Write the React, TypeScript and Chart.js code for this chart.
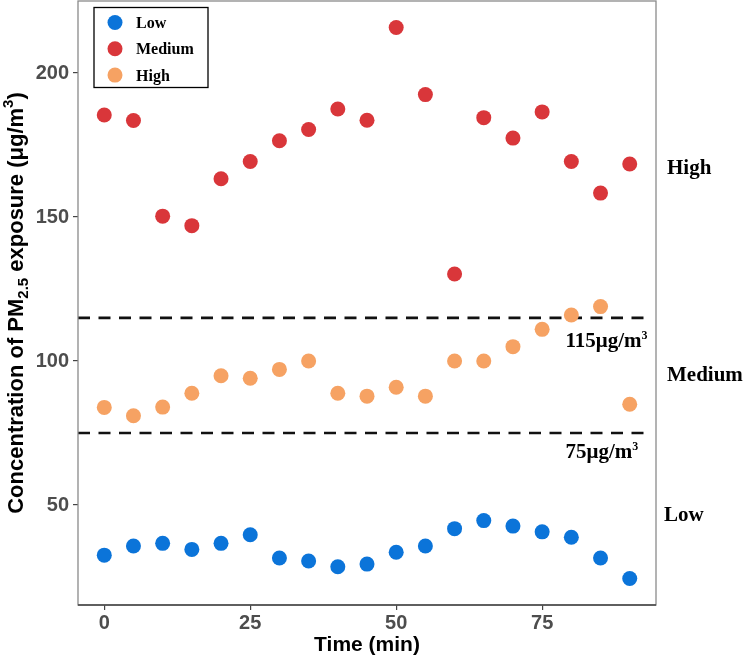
import React, { useEffect, useRef } from "react";
import { Chart, registerables } from "chart.js";

Chart.register(...registerables);

const times = [0, 5, 10, 15, 20, 25, 30, 35, 40, 45, 50, 55, 60, 65, 70, 75, 80, 85, 90];
const lowValues = [32.6, 35.8, 36.7, 34.6, 36.7, 39.7, 31.6, 30.6, 28.6, 29.5, 33.6, 35.8, 41.8, 44.6, 42.7, 40.7, 38.8, 31.6, 24.5];
const mediumValues = [185.4, 183.5, 150.3, 147, 163.3, 169.3, 176.5, 180.4, 187.5, 183.6, 215.8, 192.5, 130.2, 184.5, 177.4, 186.5, 169.3, 158.3, 168.4];
const highValues = [83.9, 81, 84, 88.8, 94.9, 94, 97.1, 100, 88.8, 87.8, 90.9, 87.8, 100, 100, 105, 111, 116, 118.9, 85];

const seriesNames = ["Low", "Medium", "High"];
const seriesColors = ["#0b74d9", "#d9363a", "#f6a263"];

const thresholds = [115, 75];
const thresholdLabelBase = ["115μg/m", "75μg/m"];
const thresholdLabelSup = ["3", "3"];
const thresholdRange = [-4.5, 93];

const regionLabels = ["High", "Medium", "Low"];

const xTicks = [0, 25, 50, 75];
const yTicks = [50, 100, 150, 200];

type Part = { t: string; size: number; dy: number };

function drawRich(ctx: CanvasRenderingContext2D, parts: Part[], x: number, y: number, family: string, align: "left" | "center") {
  let total = 0;
  const widths = parts.map((p) => {
    ctx.font = `bold ${p.size}px ${family}`;
    const w = ctx.measureText(p.t).width;
    total += w;
    return w;
  });
  let cx = align === "center" ? x - total / 2 : x;
  ctx.textAlign = "left";
  ctx.textBaseline = "alphabetic";
  parts.forEach((p, i) => {
    ctx.font = `bold ${p.size}px ${family}`;
    ctx.fillText(p.t, cx, y + p.dy);
    cx += widths[i];
  });
}

const annotate = {
  id: "annotate",
  afterDraw(chart: any) {
    const { ctx, chartArea: a, scales } = chart;
    const xs = scales.x;
    const ys = scales.y;
    ctx.save();
    // panel frame
    ctx.strokeStyle = "#8a8a8a";
    ctx.lineWidth = 1.3;
    ctx.strokeRect(a.left, a.top, a.right - a.left, a.bottom - a.top);
    ctx.strokeStyle = "#444";
    ctx.beginPath();
    ctx.moveTo(a.left, a.bottom);
    ctx.lineTo(a.right, a.bottom);
    ctx.stroke();

    ctx.fillStyle = "#000";
    // threshold labels
    const labelOffsets = [29, 25];
    thresholds.forEach((v, i) => {
      const py = ys.getPixelForValue(v) + labelOffsets[i];
      const px = xs.getPixelForValue(79);
      drawRich(ctx, [
        { t: thresholdLabelBase[i], size: 21, dy: 0 },
        { t: thresholdLabelSup[i], size: 12, dy: -8 },
      ], px, py, "'Liberation Serif'", "left");
    });

    // region labels
    const regionY = [174, 381, 521];
    const regionX = [667, 667, 664];
    regionLabels.forEach((t, i) => {
      drawRich(ctx, [{ t, size: 21, dy: 0 }], regionX[i], regionY[i], "'Liberation Serif'", "left");
    });

    // legend
    ctx.strokeStyle = "#000";
    ctx.lineWidth = 1.3;
    ctx.strokeRect(94, 7.5, 114, 80);
    seriesNames.forEach((n, i) => {
      const cy = 22.5 + i * 26.3;
      ctx.fillStyle = seriesColors[i];
      ctx.beginPath();
      ctx.arc(115, cy, 7.5, 0, Math.PI * 2);
      ctx.fill();
      ctx.fillStyle = "#000";
      drawRich(ctx, [{ t: n, size: 16, dy: 0 }], 136, cy + 5.5, "'Liberation Serif'", "left");
    });

    // y title
    ctx.save();
    ctx.translate(23, (a.top + a.bottom) / 2);
    ctx.rotate(-Math.PI / 2);
    ctx.fillStyle = "#000";
    drawRich(ctx, [
      { t: "Concentration of PM", size: 22, dy: 0 },
      { t: "2.5", size: 15, dy: 5 },
      { t: " exposure (μg/m", size: 22, dy: 0 },
      { t: "3", size: 15, dy: -10 },
      { t: ")", size: 22, dy: 0 },
    ], 0, 0, "'Liberation Sans'", "center");
    ctx.restore();

    // x title
    ctx.fillStyle = "#000";
    drawRich(ctx, [{ t: "Time (min)", size: 21, dy: 0 }], (a.left + a.right) / 2, 651, "'Liberation Sans'", "center");
    ctx.restore();
  },
};

export default function App() {
  const ref = useRef<HTMLCanvasElement | null>(null);
  useEffect(() => {
    if (!ref.current) return;
    const pts = (vals: number[]) => times.map((t, i) => ({ x: t, y: vals[i] }));
    const seriesData = [lowValues, mediumValues, highValues];
    const datasets: any[] = seriesNames.map((n, i) => ({
      type: "scatter",
      label: n,
      data: pts(seriesData[i]),
      backgroundColor: seriesColors[i],
      borderWidth: 0,
      pointRadius: 7.5,
      pointHoverRadius: 7.5,
      order: 1,
    }));
    thresholds.forEach((v) => {
      datasets.push({
        type: "line",
        label: `t${v}`,
        data: thresholdRange.map((x) => ({ x, y: v })),
        borderColor: "#111",
        borderWidth: 2.6,
        borderDash: [12, 8.5],
        pointRadius: 0,
        order: 2,
      });
    });
    const chart = new Chart(ref.current, {
      type: "scatter",
      data: { datasets },
      options: {
        animation: false,
        responsive: true,
        maintainAspectRatio: false,
        layout: { autoPadding: false, padding: { left: 0, right: 88, top: 1, bottom: 0 } },
        plugins: { legend: { display: false }, tooltip: { enabled: false } },
        scales: {
          x: {
            type: "linear",
            min: -4.5,
            max: 94.5,
            afterBuildTicks: (s: any) => {
              s.ticks = xTicks.map((v) => ({ value: v }));
            },
            afterFit: (s: any) => {
              s.height = 52;
              s.paddingLeft = 0;
              s.paddingRight = 0;
            },
            border: { display: false },
            grid: { display: true, drawOnChartArea: false, drawTicks: true, tickLength: 5, color: "#444", lineWidth: 1.2 },
            ticks: { color: "#4d4d4d", font: { family: "'Liberation Sans'", size: 20, weight: "bold" }, padding: 1, maxRotation: 0 },
          },
          y: {
            type: "linear",
            min: 15.3,
            max: 225,
            afterBuildTicks: (s: any) => {
              s.ticks = yTicks.map((v) => ({ value: v }));
            },
            afterFit: (s: any) => {
              s.width = 78;
              s.paddingTop = 0;
              s.paddingBottom = 0;
            },
            border: { display: false },
            grid: { display: true, drawOnChartArea: false, drawTicks: true, tickLength: 5, color: "#444", lineWidth: 1.2 },
            ticks: { color: "#4d4d4d", font: { family: "'Liberation Sans'", size: 20, weight: "bold" }, padding: 4 },
          },
        },
      },
      plugins: [annotate],
    } as any);
    return () => chart.destroy();
  }, []);
  return (
    <div style={{ position: "absolute", left: 0, top: 0, width: 744, height: 657, background: "#fff" }}>
      <canvas ref={ref} />
    </div>
  );
}
